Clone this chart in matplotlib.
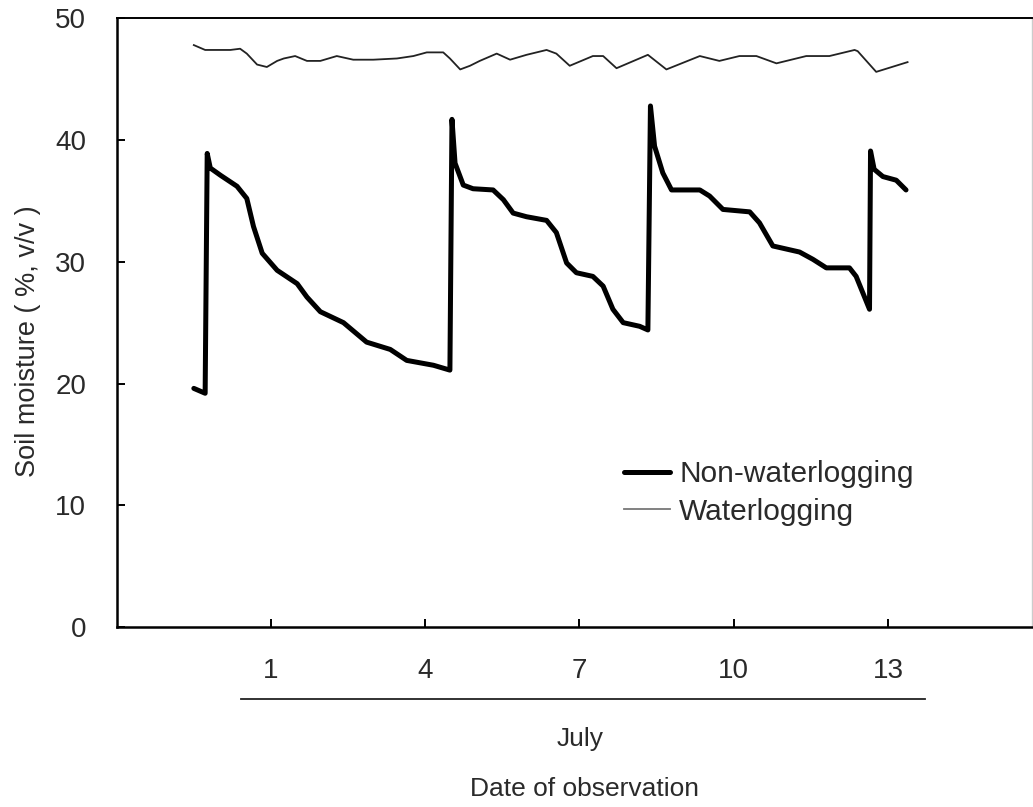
import matplotlib
matplotlib.use("Agg")
import matplotlib.pyplot as plt
import matplotlib.transforms as mtransforms

plt.rcParams["font.family"] = ["Liberation Sans", "DejaVu Sans"]

# Non-waterlogging (thick line): day of July, soil moisture (%, v/v)
dry_day = [-0.50, -0.28, -0.24, -0.18, 0.02, 0.34, 0.53, 0.66, 0.83, 1.12, 1.51,
           1.70, 1.96, 2.41, 2.86, 3.32, 3.64, 4.16, 4.48, 4.52, 4.58, 4.74, 4.93,
           5.32, 5.52, 5.71, 5.97, 6.36, 6.55, 6.75, 6.94, 7.26, 7.46, 7.65, 7.85,
           8.17, 8.33, 8.38, 8.46, 8.62, 8.79, 9.34, 9.53, 9.79, 10.31, 10.50,
           10.76, 11.28, 11.54, 11.80, 12.25, 12.38, 12.64, 12.66, 12.73, 12.90,
           13.16, 13.35]
dry_val = [19.6, 19.2, 38.9, 37.7, 37.1, 36.2, 35.2, 32.9, 30.7, 29.3, 28.2,
           27.1, 25.9, 25.0, 23.4, 22.8, 21.9, 21.5, 21.1, 41.7, 38.1, 36.3, 36.0,
           35.9, 35.1, 34.0, 33.7, 33.4, 32.4, 29.9, 29.1, 28.8, 28.0, 26.1, 25.0,
           24.7, 24.4, 42.8, 39.5, 37.3, 35.9, 35.9, 35.4, 34.3, 34.1, 33.2,
           31.3, 30.8, 30.2, 29.5, 29.5, 28.8, 26.1, 39.1, 37.6, 37.0,
           36.7, 35.9]

# Waterlogging (thin line)
wet_day = [-0.50, -0.28, 0.21, 0.40, 0.53, 0.73, 0.92, 1.12, 1.25, 1.47, 1.70,
           1.96, 2.28, 2.60, 2.99, 3.45, 3.77, 4.03, 4.35, 4.48, 4.68, 4.87, 5.06,
           5.39, 5.65, 5.97, 6.36, 6.55, 6.81, 7.26, 7.46, 7.72, 8.33, 8.69, 9.34,
           9.72, 10.11, 10.44, 10.70, 10.83, 11.41, 11.86, 12.35, 12.41, 12.77,
           13.38]
wet_val = [47.8, 47.4, 47.4, 47.5, 47.1, 46.2, 46.0, 46.5, 46.7, 46.9, 46.5,
           46.5, 46.9, 46.6, 46.6, 46.7, 46.9, 47.2, 47.2, 46.7, 45.8, 46.1, 46.5,
           47.1, 46.6, 47.0, 47.4, 47.1, 46.1, 46.9, 46.9, 45.9, 47.0, 45.8, 46.9,
           46.5, 46.9, 46.9, 46.5, 46.3, 46.9, 46.9, 47.4, 47.3, 45.6,
           46.4]

x_ticks = [1, 4, 7, 10, 13]
y_ticks = [0, 10, 20, 30, 40, 50]

W, H = 1033, 807
fig = plt.figure(figsize=(W / 100, H / 100), dpi=100)
ax = fig.add_axes([116.7 / W, 1 - 627 / H, (1032 - 116.7) / W, (627 - 18.3) / H])

ax.plot(dry_day, dry_val, color="black", lw=3.6, solid_joinstyle="round",
        solid_capstyle="round", label="Non-waterlogging")
ax.plot(wet_day, wet_val, color="#222222", lw=1.3, label="Waterlogging")

ax.set_xlim(-2, 15.8)
ax.set_ylim(0, 50)
ax.set_xticks(x_ticks)
ax.set_yticks(y_ticks)
ax.tick_params(axis="both", direction="in", length=6, width=1.4,
               labelsize=20, colors="black", labelcolor="#2a2a2a", pad=22)

for side in ["left", "bottom"]:
    ax.spines[side].set_linewidth(1.8)
ax.spines["top"].set_linewidth(1.4)
ax.spines["right"].set_linewidth(1.0)
ax.spines["right"].set_color("#cccccc")

# line under the day labels
trans = mtransforms.blended_transform_factory(ax.transData, ax.transAxes)
ax.plot([0.42, 13.72], [-0.118, -0.118], color="#222222", lw=1.3,
        transform=trans, clip_on=False)

fig.text(580 / W, 1 - 739 / H, "July", ha="center", va="center",
         fontsize=19, color="#2a2a2a")
fig.text(585 / W, 1 - 789 / H, "Date of observation", ha="center",
         va="center", fontsize=19, color="#2a2a2a")
fig.text(28 / W, 1 - 341 / H, "Soil moisture ( %, v/v )", rotation=90,
         ha="center", va="center", fontsize=19.5, color="#2a2a2a")

leg = ax.legend(loc="upper left", bbox_to_anchor=(624 / W, 1 - 460 / H),
                bbox_transform=fig.transFigure, frameon=False, fontsize=21.5,
                handlelength=1.55, handletextpad=0.3, labelspacing=0.33,
                borderpad=0, borderaxespad=0)
leg.get_lines()[1].set_color("#777777")
for t in leg.get_texts():
    t.set_color("#2a2a2a")

fig.savefig("out.png", dpi=100)
